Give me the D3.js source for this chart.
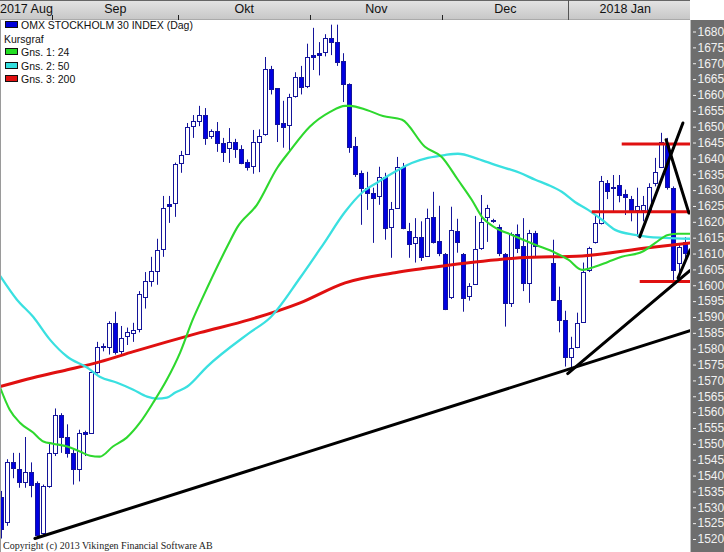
<!DOCTYPE html>
<html><head><meta charset="utf-8">
<script src="https://cdn.jsdelivr.net/npm/d3@7"></script>
<style>
html,body{margin:0;padding:0;background:#fff;}
svg{display:block;}
</style></head>
<body>
<svg id="c" width="724" height="552"></svg>
<script>
// ---------- DATA ----------
// Daily candles by weekday slot (0 = 2017-08-21). null = market closed.
const openV = [1533,1525,1544,1542,1538,1541,1537.5,1521.5,1536.5,1547,1559,1552,1547,1542,1553.5,1553.4,1572.6,1580.4,1580.5,1588,1579.2,1583.6,1585,1586,1596.2,1601.3,1604.4,1611.3,1625.6,1625.8,1638.4,1641.3,1650.1,1651.7,1653.5,1647,1648.5,1644.7,1643.1,1645,1642.8,1638.7,1637.5,1645,1647.6,1668,1662,1651,1650.4,1659.5,1665.5,1662.7,1672.5,1673,1673.4,1677.8,1676.5,1670.6,1663.3,1643.8,1635.3,1630.6,1629,1628,1634,1618.3,1624.3,1637.2,1617,1613.2,1615.1,1609.1,1621.4,1613.9,1609.8,1596.2,1617,1609.8,1596.5,1600.3,1611.7,1621.4,1620.4,1618.3,1609.8,1594.3,1616,1612.3,1600.6,1616.4,null,null,1606.9,1595.3,1589,1577.3,1580.5,1588.3,1604.7,1613.5,1619.5,1632.1,1630.4,1631.5,1628.7,1627.1,1623.6,1623.6,1623.6,1632.1,1637.2,1644.7,1630.6,1606.9,1613.5];
const highV = [1535,1545,1547,1547,1552,1544,1538,1537,1550,1561,1559.5,1556,1548,1554.3,1554,1573,1582,1581.5,1588.5,1591.5,1587,1586.5,1588,1598,1604,1608.8,1614.5,1628,1628,1638.5,1642.2,1651,1653.5,1656.4,1655.7,1649,1651.3,1646.3,1649.4,1646,1644,1639.5,1648.8,1649,1671.8,1669,1662,1658,1660.2,1667,1669,1676,1681,1676.5,1679,1682,1682,1673,1663.5,1646.6,1636,1635.6,1630.6,1637.2,1635.3,1626.1,1640.3,1638.4,1619.5,1621,1620,1624,1629.3,1624.9,1610,1624.6,1620.8,1610,1600.5,1621.7,1628.3,1625.2,1620.8,1619,1610,1616.5,1619,1621,1617.3,1617,null,null,1614.2,1599.4,1591.8,1583.6,1591.2,1607,1612,1622,1634.3,1633,1634.6,1634.6,1630,1628,1630.6,1628,1632,1640,1647.9,1646.3,1631,1613,1615];
const lowV = [1520,1524,1539,1536,1536,1533,1520,1520.5,1536,1546,1547,1545.5,1537,1538,1546,1553,1572,1579,1578,1578,1578,1581,1582,1585,1592.5,1599.4,1600,1608.8,1619.5,1621.4,1635.3,1641,1646.3,1650,1644.1,1646,1641.9,1638.7,1638.4,1640,1638,1636,1635,1635.5,1647,1660,1645,1643.2,1642.2,1659,1660,1662,1667.7,1666,1672,1672.4,1669,1657.6,1641.6,1634,1618.9,1623.6,1613.2,1625.2,1614.2,1608.5,1624,1617.5,1608.5,1607,1607.5,1608.8,1613,1609,1592,1595.5,1610.1,1591.5,1595,1600,1611,1613.5,1619.5,1609,1586.8,1593,1610,1598,1594.3,1608.5,null,null,1595,1585,1574.2,1573.9,1580,1588,1604,1613,1619,1627,1622.7,1626,1622,1620,1615.1,1620,1622,1631,1637,1630,1601,1601,1608];
const closeV = [1523,1544,1542,1538,1541,1537,1521,1536.4,1547,1559,1552,1547,1542,1553.4,1552.8,1572.6,1580.5,1580.6,1588,1579,1583.3,1585,1585.8,1597,1601.3,1604.4,1611,1624.3,1625,1638,1640.9,1649.8,1651.7,1653.5,1646.3,1648.5,1644.7,1641.9,1645,1642.8,1638.4,1637.2,1645,1646.9,1668,1661.7,1650.7,1649.8,1659.2,1665.5,1662.4,1671.8,1672,1672.4,1677.8,1676.5,1670.2,1663.3,1643.5,1635,1630.6,1629,1627.4,1634,1618,1624,1637.2,1618,1612.9,1615,1608.8,1621.1,1613.5,1610.1,1592.4,1617.3,1613.5,1595.9,1599.7,1611.3,1619.8,1624.3,1620,1610.1,1594.3,1616.1,1611.7,1600.6,1616.4,1612.3,null,null,1595.3,1589,1577.3,1580.2,1588,1604.1,1611.7,1619.5,1632.8,1629.6,1630.8,1628.3,1627.7,1623.3,1624.9,1625.2,1630.9,1635.6,1645,1630.9,1604.7,1612,1610.1];

// Moving averages: [slot, value]
const ma24 = [[-0.2,1567.6],[1.4,1560.6],[3.1,1556.5],[5.3,1553.4],[7,1550.6],[8.6,1549.9],[11,1549],[13.1,1547.4],[14.8,1546.1],[16.4,1545.8],[18.6,1549],[20.9,1551.8],[23.1,1556.5],[25.3,1562.8],[27.6,1570.1],[29.8,1578.6],[31.9,1589],[33.4,1595.3],[37.8,1612.6],[39.3,1618],[42.6,1625.2],[46,1636.9],[48.1,1642.2],[51.4,1649.8],[54.8,1654.5],[57.3,1656.4],[58.1,1656.4],[60.9,1655.1],[63.6,1653.2],[66.8,1652],[70.6,1643.5],[73.4,1640.3],[76.1,1633.1],[78.4,1626.8],[80.1,1621.4],[82.3,1618],[85.1,1615.7],[89,1612.6],[92.3,1610.1],[94.5,1607.9],[96.8,1604.7],[98.9,1605.7],[101.1,1607.2],[103.4,1608.8],[106.8,1610.4],[109,1613.2],[111.1,1615.7],[112.8,1616.1],[114.8,1616.1]];
const ma50 = [[-0.2,1602.8],[2.6,1595.3],[5.3,1589.9],[8.1,1582.7],[11,1577.3],[14.3,1573.9],[16.4,1571],[19.3,1569.1],[22,1566.9],[24.3,1564.7],[26,1564.1],[27.6,1564.4],[29,1566],[31,1567.9],[34.3,1574.2],[41.4,1584.9],[44.8,1589.6],[49.8,1602.2],[53.6,1612.6],[57.3,1623],[60.1,1629],[62.8,1632.4],[65.6,1635.6],[68.4,1638.4],[71.1,1640],[73.9,1640.9],[76.1,1641.3],[79.4,1639.7],[82.3,1637.8],[86.4,1635.3],[89,1633.1],[91.1,1631.5],[93.4,1629.3],[95.6,1626.1],[97.8,1623.6],[100.1,1620.5],[102.3,1617.3],[105.6,1615.7],[107.8,1615.1],[110.6,1614.8],[114.8,1614.5]];
const ma200 = [[-0.2,1567.9],[5.3,1570.7],[11,1573.2],[16.4,1575.7],[22,1578.9],[27.6,1582],[33.1,1584.9],[41.4,1589],[49.8,1594.3],[57.3,1600.6],[65.6,1603.8],[73.9,1606],[86.4,1608.5],[96.8,1609.1],[107.8,1611.7],[114.8,1613.2]];

// Drawn trend lines: [slot1, value1, slot2, value2]
const trendLines = [[5.6,1520,114.8,1585.5],[94.4,1572,114.8,1604.5],[106.4,1615.1,113.6,1651],[110.8,1645.7,114.6,1622.6],[112.8,1602.2,114.8,1611]];
// Drawn horizontal levels: [fromSlot, value]
const levels = [[103.4,1644.4],[98.4,1623],[106.4,1601]];

const monthLabels = ["2017 Aug","Sep","Okt","Nov","Dec","2018 Jan"];
const monthStarts = [-0.22,8.5,29.5,51.5,73.5,94.5];
const yTicks = d3.range(1520,1681,5);
const legendItems = [["OMX STOCKHOLM 30 INDEX (Dag)","#0000d8"],["Kursgraf",null],["Gns. 1: 24","#22dd22"],["Gns. 2: 50","#33dfdf"],["Gns. 3: 200","#e01010"]];

// ---------- CHART ----------
const svg = d3.select("#c");
const W=724,H=552, plotR=690, plotT=20;
const x = d3.scaleLinear().domain([-0.22,114.78]).range([0,plotR]);
const y = d3.scaleLinear().domain([1520,1680]).range([538.5,31]);
const FONT = "'Liberation Sans Narrow','Liberation Sans',Arial,sans-serif";

svg.append("rect").attr("width",W).attr("height",H).attr("fill","#fff");

const plot = svg.append("g");
plot.append("clipPath").attr("id","pc").append("rect").attr("x",0).attr("y",plotT).attr("width",plotR).attr("height",H-plotT);
const g = plot.append("g").attr("clip-path","url(#pc)");

// candles
const idx = d3.range(openV.length).filter(i=>openV[i]!==null);
const px = i => Math.floor(x(i))+0.5;
const cg = g.append("g");
cg.selectAll("line.w").data(idx).join("line")
  .attr("x1",px).attr("x2",px)
  .attr("y1",i=>y(highV[i])).attr("y2",i=>y(lowV[i]))
  .attr("stroke","#14149a").attr("stroke-width",1);
cg.selectAll("rect.b").data(idx).join("rect")
  .attr("x",i=>px(i)-2).attr("width",4)
  .attr("y",i=>Math.round(y(Math.max(openV[i],closeV[i])))+0.5)
  .attr("height",i=>Math.max(1,Math.round(Math.abs(y(openV[i])-y(closeV[i])))))
  .attr("fill",i=>closeV[i]<openV[i]?"#0000e0":"#ffffff")
  .attr("stroke","#14149a").attr("stroke-width",1);

// moving averages
const line = d3.line().x(d=>x(d[0])).y(d=>y(d[1])).curve(d3.curveMonotoneX);
[[ma200,"#e01010",3],[ma50,"#3ae0e0",2.3],[ma24,"#2ed82e",2.1]].forEach(([d,c,w])=>{
  g.append("path").attr("d",line(d)).attr("fill","none").attr("stroke",c).attr("stroke-width",w);
});

// horizontal levels
levels.forEach(([s,v])=>{
  g.append("line").attr("x1",x(s)).attr("x2",plotR).attr("y1",y(v)).attr("y2",y(v))
   .attr("stroke","#e01010").attr("stroke-width",3);
});
// trend lines
trendLines.forEach(([s1,v1,s2,v2])=>{
  g.append("line").attr("x1",x(s1)).attr("y1",y(v1)).attr("x2",x(s2)).attr("y2",y(v2))
   .attr("stroke","#000").attr("stroke-width",3).attr("stroke-linecap","round");
});

// left border
svg.append("line").attr("x1",0.5).attr("x2",0.5).attr("y1",plotT).attr("y2",H).attr("stroke","#9a9a9a");

// top bar
const defs = svg.append("defs");
const gr = defs.append("linearGradient").attr("id","tb").attr("x1",0).attr("y1",0).attr("x2",0).attr("y2",1);
gr.append("stop").attr("offset",0).attr("stop-color","#e4e4e4");
gr.append("stop").attr("offset",1).attr("stop-color","#c6c6c6");
svg.append("rect").attr("x",0).attr("y",0).attr("width",plotR).attr("height",plotT).attr("fill","url(#tb)");
svg.append("line").attr("x1",0).attr("x2",plotR).attr("y1",0.5).attr("y2",0.5).attr("stroke","#666");
svg.append("line").attr("x1",0).attr("x2",plotR).attr("y1",plotT-0.5).attr("y2",plotT-0.5).attr("stroke","#aaa");
monthStarts.forEach((s,k)=>{
  if(k===0) return;
  const xx = Math.round(x(s))+0.5;
  if(monthLabels[k].startsWith("20")){
    svg.append("line").attr("x1",xx).attr("x2",xx).attr("y1",0).attr("y2",plotT).attr("stroke","#555");
  } else {
    svg.append("line").attr("x1",xx).attr("x2",xx).attr("y1",15).attr("y2",plotT).attr("stroke","#222");
  }
});
monthLabels.forEach((t,k)=>{
  const end = k<monthStarts.length-1? monthStarts[k+1] : 113.5;
  const cx = k===0 ? 0 : x((monthStarts[k]+end)/2);
  svg.append("text").attr("x",k===0?0:cx).attr("y",13)
    .attr("text-anchor",k===0?"start":"middle")
    .attr("font-family",FONT).attr("font-size",12.5).attr("fill","#111").text(t);
});

// right axis
svg.append("rect").attr("x",plotR).attr("y",plotT).attr("width",W-plotR).attr("height",H-plotT).attr("fill","#6e6e6e");
svg.append("line").attr("x1",plotR+0.5).attr("x2",plotR+0.5).attr("y1",plotT).attr("y2",H).attr("stroke","#bdbdbd");
const ax = svg.append("g").attr("transform",`translate(${plotR},0)`)
  .call(d3.axisRight(y).tickValues(yTicks).tickSize(0).tickPadding(0).tickFormat(d3.format("d")));
ax.select(".domain").remove();
ax.selectAll(".tick").each(function(d){
  const t=d3.select(this);
  t.append("line").attr("x1",3).attr("x2",6).attr("y1",0.5).attr("y2",0.5).attr("stroke","#f0f0f0");
});
ax.selectAll("text").attr("x",7.5).attr("dy","0.36em").attr("fill","#f2f2f2")
  .attr("font-family",FONT).attr("font-size",12);

// legend
const lg = svg.append("g");
const lY=[29,43,56,70,83];
legendItems.forEach(([t,c],k)=>{
  if(c){
    lg.append("rect").attr("x",5.5).attr("y",lY[k]-7.5).attr("width",12).attr("height",6)
      .attr("fill",c).attr("stroke","#111").attr("stroke-width",1);
  }
  lg.append("text").attr("x",c?21:4).attr("y",lY[k]).attr("font-family","'Liberation Sans',Arial,sans-serif")
    .attr("font-size",10.5).attr("fill","#111").text(t);
});

// copyright
svg.append("text").attr("x",3).attr("y",549).attr("font-family","'Liberation Serif','Times New Roman',serif")
  .attr("font-size",10).attr("fill","#222").text("Copyright (c) 2013 Vikingen Financial Software AB");
</script>
</body></html>
